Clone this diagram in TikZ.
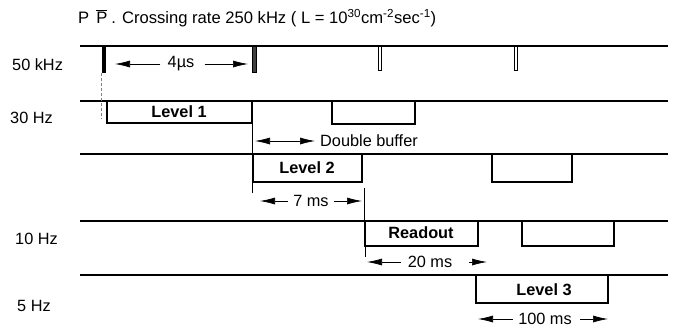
\documentclass[tikz,border=0pt]{standalone}
\usepackage{fontspec}
\setmainfont{Liberation Sans}
\usetikzlibrary{arrows.meta}
\begin{document}
\begin{tikzpicture}[x=1pt,y=-1pt,
  every node/.style={font=\fontsize{16.3}{19}\selectfont, inner sep=0pt},
  rail/.style={line width=1.3pt},
  slot/.style={draw, line width=1.3pt},
  tick/.style={line width=0.5pt},
  dim/.style={line width=0.7pt, -{Latex[length=15pt,width=7pt]}},
  dimboth/.style={line width=0.7pt, {Latex[length=15pt,width=7pt]}-{Latex[length=15pt,width=7pt]}},
  lbl/.style={anchor=west},
  boxtxt/.style={font=\fontsize{16.3}{19}\selectfont\bfseries}]
\useasboundingbox (0,0) rectangle (675,333);
% title
\node[lbl, font=\fontsize{16.6}{19}\selectfont] (title) at (78,18) {P\hspace{7pt}$\overline{\mbox{P}}$\hspace{4pt}. Crossing rate 250 kHz ( L = 10\textsuperscript{30}cm\textsuperscript{-2}sec\textsuperscript{-1})};
% rails
\foreach \y/\n in {46/r1,101/r2,154/r3,221/r4,275/r5}{
  \coordinate (\n w) at (80,\y); \coordinate (\n e) at (668,\y);
  \draw[rail] (\n w) -- (\n e);
}
% rate labels
\node[lbl] (f1) at (12,65) {50 kHz};
\node[lbl] (f2) at (10,118) {30 Hz};
\node[lbl] (f3) at (15,239) {10 Hz};
\node[lbl] (f4) at (17,306) {5 Hz};
% pulses
\fill (102,46) rectangle (106,73);
\draw[line width=0.7pt, fill=black!75] (252.5,46) rectangle (256,72);
\draw[line width=0.7pt] (378,46) rectangle (381.5,70);
\draw[line width=0.7pt] (514,46) rectangle (517.5,70);
% boxes
\draw[slot] (107,101) -- (107,123) -- (252,123) -- (252,101);
\node[boxtxt] (lev1) at (179,112) {Level 1};
\draw[slot] (332,101) -- (332,124) -- (415,124) -- (415,101);
\draw[slot] (253,154) -- (253,182) -- (362,182) -- (362,154);
\node[boxtxt] (lev2) at (307,168) {Level 2};
\draw[slot] (492,154) -- (492,182) -- (572,182) -- (572,154);
\draw[slot] (365,221) -- (365,246) -- (478,246) -- (478,221);
\node[boxtxt] (ro) at (421,233) {Readout};
\draw[slot] (522,221) -- (522,246) -- (614,246) -- (614,221);
\draw[slot] (476,275) -- (476,303) -- (608,303) -- (608,275);
\node[boxtxt] (lev3) at (544,290) {Level 3};
% thin guide lines
\draw[tick, densely dashed, gray] (101,73) -- (101,119);
\draw[tick] (252,123) -- (252,193);
\draw[tick] (364,188) -- (364,221);
\draw[tick] (365,246) -- (365,257);
% 4 us
\node (t4) at (181,64) {4µs};
\coordinate (a4l) at (115,64); \coordinate (a4r) at (248,64);
\draw[dim] (t4.west) ++(-7,0) -- (a4l);
\draw[dim] (t4.east) ++(10,0) -- (a4r);
% double buffer
\coordinate (dbl) at (255,141); \coordinate (dbr) at (315,141);
\draw[dimboth] (dbl) -- (dbr);
\node[lbl] (db) at (320,141) {Double buffer};
% 7 ms
\node (t7) at (311,201) {7 ms};
\coordinate (a7l) at (260,201); \coordinate (a7r) at (362,201);
\draw[dim] (t7.west) ++(-5,0) -- (a7l);
\draw[dim] (t7.east) ++(5,0) -- (a7r);
% 20 ms
\node (t20) at (430,262) {20 ms};
\coordinate (a20l) at (367,262); \coordinate (a20r) at (487,262);
\draw[dim] (t20.west) ++(-7,0) -- (a20l);
\draw[dim] (t20.east) ++(17,0) -- (a20r);
% 100 ms
\node (t100) at (545,319) {100 ms};
\coordinate (a100l) at (478,319); \coordinate (a100r) at (608,319);
\draw[dim] (t100.west) ++(-5,0) -- (a100l);
\draw[dim] (t100.east) ++(8,0) -- (a100r);
\end{tikzpicture}
\end{document}
